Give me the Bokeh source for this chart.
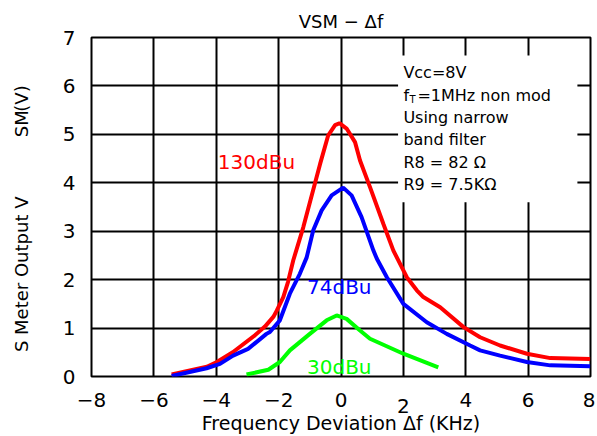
from bokeh.plotting import figure
from bokeh.models import Label, BoxAnnotation, FixedTicker, Range1d, LinearAxis
from bokeh.embed import file_html
from bokeh.resources import INLINE

# ---------------- data ----------------
x_ticks = [-8, -6, -4, -2, 0, 2, 4, 6, 8]
x_tick_labels = ["−8", "−6", "−4", "−2", "0", "2", "4", "6", "8"]
y_ticks = [0, 1, 2, 3, 4, 5, 6, 7]
y_tick_labels = ["0", "1", "2", "3", "4", "5", "6", "7"]

red_x = [-5.43, -4.3, -3.98, -3.47, -2.76, -2.44, -2.17, -2.06, -1.85, -1.7, -1.53, -1.21,
         -0.67, -0.41, -0.19, -0.05, 0.18, 0.45, 0.61, 0.93, 1.36, 1.68, 2.11, 2.43, 2.64,
         3.18, 3.93, 4.46, 5.1, 5.96, 6.71, 7.99]
red_y = [0.04, 0.2, 0.3, 0.5, 0.85, 1.03, 1.23, 1.36, 1.64, 1.95, 2.4, 3.08,
         4.39, 4.98, 5.19, 5.23, 5.12, 4.84, 4.46, 3.91, 3.15, 2.6, 2.05, 1.78, 1.64,
         1.43, 1.02, 0.81, 0.64, 0.47, 0.38, 0.36]

blue_x = [-5.43, -4.31, -3.88, -3.46, -2.98, -2.39, -2.28, -1.96, -1.64, -1.32, -1.1, -0.89,
          -0.62, -0.3, 0.07, 0.34, 0.56, 0.66, 1.04, 1.15, 1.47, 2.0, 2.75, 3.39, 4.14,
          4.46, 5.1, 5.96, 6.71, 7.99]
blue_y = [0.01, 0.17, 0.26, 0.43, 0.57, 0.88, 0.92, 1.16, 1.71, 2.12, 2.46, 3.02,
          3.43, 3.74, 3.9, 3.74, 3.43, 3.29, 2.6, 2.43, 2.05, 1.5, 1.12, 0.88, 0.64,
          0.54, 0.43, 0.3, 0.23, 0.21]

green_x = [-3.03, -2.33, -1.96, -1.64, -1.0, -0.46, -0.14, 0.18, 0.61, 0.93, 2.0, 3.12]
green_y = [0.04, 0.14, 0.3, 0.54, 0.88, 1.16, 1.26, 1.19, 0.95, 0.78, 0.47, 0.19]

series_names = ["130dBu", "74dBu", "30dBu"]
series_colors = ["#ff0000", "#0000ff", "#00ff00"]

note_lines = ["Vcc=8V", "=1MHz non mod", "Using narrow", "band filter", "R8 = 82 Ω", "R9 = 7.5KΩ"]

title_text = "VSM − Δf"
x_label = "Frequency Deviation Δf (KHz)"
y_label_parts = ["S Meter Output V", "SM", "(V)"]
y_label_pos = [2.11, 5.22, 5.74]

FONT = "DejaVu Sans"

p = figure(width=595, height=436, output_backend="svg", toolbar_location=None,
           x_range=Range1d(-8, 8), y_range=Range1d(0, 7))
p.min_border_left = 91
p.min_border_right = 5
p.min_border_top = 37
p.min_border_bottom = 60
p.background_fill_color = "white"
p.border_fill_color = "white"
p.outline_line_color = "black"
p.outline_line_width = 2

# title
p.title.text = title_text
p.title.align = "center"
p.title.text_font = FONT
p.title.text_font_size = "18px"
p.title.text_font_style = "normal"
p.title.text_color = "black"
p.title.standoff = 12

def style_axis(ax, size="20px"):
    ax.axis_line_color = None
    ax.major_tick_line_color = None
    ax.minor_tick_line_color = None
    ax.major_label_text_font = FONT
    ax.major_label_text_font_size = size
    ax.major_label_text_color = "black"
    ax.axis_label_text_font = FONT
    ax.axis_label_text_font_style = "normal"
    ax.axis_label_text_color = "black"

# primary x axis (the "2" label is drawn lower, on a second axis)
p.xaxis.ticker = FixedTicker(ticks=x_ticks)
over = {t: l for t, l in zip(x_ticks, x_tick_labels)}
over[2] = ""
p.xaxis.major_label_overrides = over
style_axis(p.xaxis[0])
p.xaxis.major_label_standoff = 10

x2 = LinearAxis(ticker=FixedTicker(ticks=[x_ticks[5]]),
                major_label_overrides={x_ticks[5]: x_tick_labels[5]})
style_axis(x2)
x2.major_label_standoff = -17
x2.axis_label = x_label
x2.axis_label_text_font_size = "19px"
x2.axis_label_standoff = -4
p.add_layout(x2, "below")

# y axis
p.yaxis.ticker = FixedTicker(ticks=y_ticks)
p.yaxis.major_label_overrides = {t: l for t, l in zip(y_ticks, y_tick_labels)}
style_axis(p.yaxis[0])
p.yaxis.major_label_standoff = 10

y2 = LinearAxis(ticker=FixedTicker(ticks=y_label_pos),
                major_label_overrides={t: l for t, l in zip(y_label_pos, y_label_parts)})
style_axis(y2, "18px")
y2.major_label_orientation = "vertical"
y2.major_label_standoff = 21
p.add_layout(y2, "left")

p.xgrid.ticker = FixedTicker(ticks=x_ticks)
p.ygrid.ticker = FixedTicker(ticks=y_ticks)
for g in (p.xgrid, p.ygrid):
    g.grid_line_color = "black"
    g.grid_line_width = 2
    g.grid_line_alpha = 1

# white box behind the notes
p.add_layout(BoxAnnotation(left=1.83, right=7.58, bottom=3.6, top=6.63,
                           fill_color="white", fill_alpha=1, line_alpha=0))

for xs, ys, c in [(red_x, red_y, series_colors[0]), (blue_x, blue_y, series_colors[1]),
                  (green_x, green_y, series_colors[2])]:
    p.line(xs, ys, line_color=c, line_width=4)

def lab(x, y, text, size, color="black", align="left", baseline="middle"):
    p.add_layout(Label(x=x, y=y, text=text, text_font=FONT, text_font_size=size,
                       text_color=color, text_align=align, text_baseline=baseline))

# series labels
lab(-3.95, 4.42, series_names[0], "20px", series_colors[0])
lab(-1.09, 1.84, series_names[1], "20px", series_colors[1])
lab(-1.09, 0.2, series_names[2], "20px", series_colors[2])

# notes
note_y = [6.28, 5.81, 5.35, 4.90, 4.42, 3.97]
lab(2.0, note_y[0], note_lines[0], "16px")
lab(2.0, note_y[1], "f", "16px")
lab(2.2, note_y[1] - 0.08, "T", "10px")
lab(2.45, note_y[1], note_lines[1], "16px")
for i in range(2, 6):
    lab(2.0, note_y[i], note_lines[i], "16px")

open("out.html", "w").write(file_html(p, INLINE))
